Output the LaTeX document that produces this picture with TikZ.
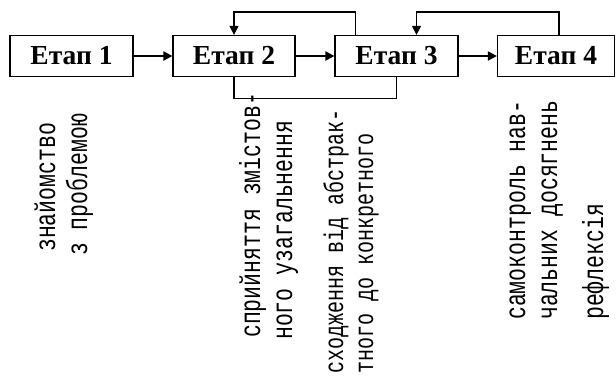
\documentclass[tikz,border=0pt]{standalone}
\usepackage{fontspec}
\setmainfont{Liberation Serif}
\newfontfamily\monof{Liberation Mono}
\usetikzlibrary{arrows.meta}
\tikzset{
  stagebox/.style={draw, line width=1.2pt, minimum height=41pt, inner sep=0pt,
    font=\fontsize{27.5}{30}\selectfont\bfseries},
  arr/.style={line width=2pt, -{Triangle[length=9pt,width=9pt]}},
  fb/.style={line width=1.2pt},
  fbarr/.style={line width=1.2pt, -{Triangle[length=9pt,width=9pt]}},
  vtext/.style={rotate=90, anchor=base west, inner sep=0pt,
    font=\fontsize{21.5}{24}\monof},
  vtextsmall/.style={vtext, font=\fontsize{20}{22}\monof}
}
\newcommand{\vs}[1]{\scalebox{1}[1.35]{#1}}
\begin{document}
\begin{tikzpicture}[x=1pt,y=-1pt]
\useasboundingbox (0,0) rectangle (616,376);
\node[stagebox, minimum width=123pt] (b1) at (71.5,56) {Етап 1};
\node[stagebox, minimum width=122pt] (b2) at (234,56) {Етап 2};
\node[stagebox, minimum width=123pt] (b3) at (396.5,56) {Етап 3};
\node[stagebox, minimum width=117pt] (b4) at (556,56) {Етап 4};
\draw[arr] (b1.east) -- (b2.west);
\draw[arr] (b2.east) -- (b3.west);
\draw[arr] (b3.east) -- (b4.west);
\coordinate (f1) at ([xshift=21pt]b3.north west);
\coordinate (f1t) at ([yshift=23pt]b2.north);
\draw[fbarr] (f1) |- (f1t) -- (b2.north);
\draw[fb] (b2.south) -- ++(0,21) -| (b3.south);
\coordinate (f2) at ([xshift=3pt]b4.north);
\coordinate (f2e) at ([xshift=20pt]b3.north);
\coordinate (f2t) at ([yshift=23pt]f2e);
\draw[fbarr] (f2) |- (f2t) -- (f2e);
\node[vtext] (t1) at (55,252) {\vs{знайомство}};
\node[vtext] (t2) at (87,256) {\vs{з проблемою}};
\node[vtext] (t3) at (260,338) {\vs{сприйняття змістов-}};
\node[vtext] (t4) at (292,340) {\vs{ного узагальнення}};
\node[vtextsmall] (t5) at (343,374) {\vs{сходження від абстрак-}};
\node[vtextsmall] (t6) at (373,374) {\vs{тного до конкретного}};
\node[vtext] (t7) at (525,320) {\vs{самоконтроль нав-}};
\node[vtext] (t8) at (557,320) {\vs{чальних досягнень}};
\node[vtext] (t9) at (603,320) {\vs{рефлексія}};
\end{tikzpicture}
\end{document}
